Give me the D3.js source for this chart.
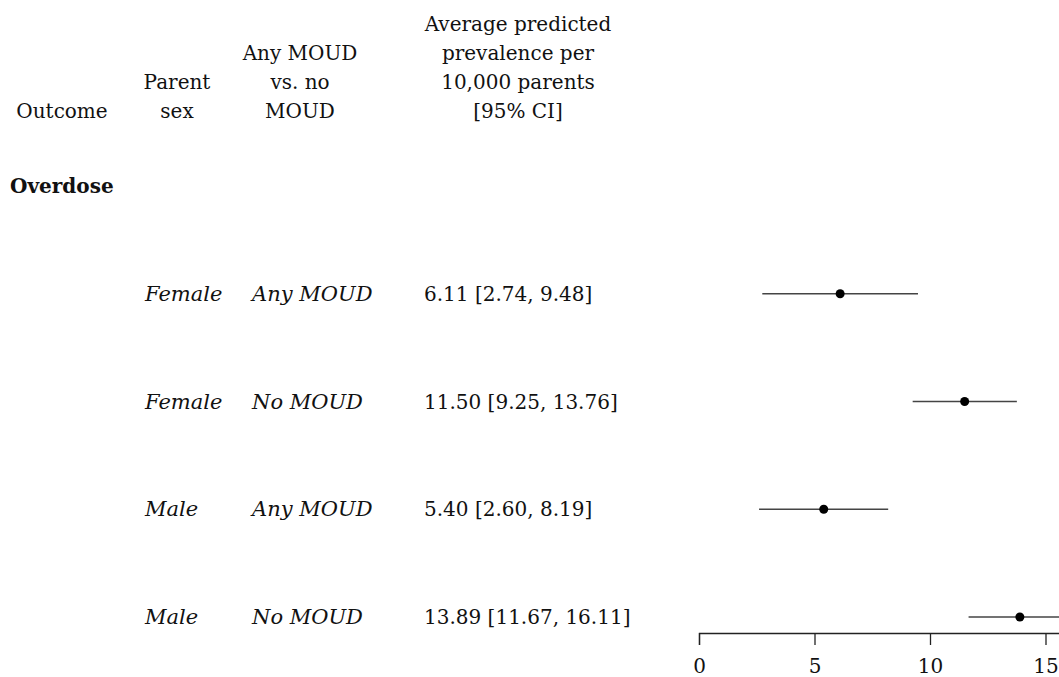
<!DOCTYPE html>
<html>
<head>
<meta charset="utf-8">
<script src="https://cdn.jsdelivr.net/npm/d3@7"></script>
<style>
  body { margin: 0; background: #fff; }
  svg { display: block; font-family: "DejaVu Serif", serif; }
</style>
</head>
<body>
<div id="graph"></div>
<script>
// data
const sexes = ["Female", "Female", "Male", "Male"]
const moud = ["Any MOUD", "No MOUD", "Any MOUD", "No MOUD"]
const estimates = [6.11, 11.50, 5.40, 13.89]
const lower = [2.74, 9.25, 2.60, 11.67]
const upper = [9.48, 13.76, 8.19, 16.11]
const ticks = [0, 5, 10, 15]
const outcome = "Overdose"

const w = 1059, h = 677

const svg = d3.select("#graph")
    .append("svg")
    .attr("width", w)
    .attr("height", h)

const x = d3.scaleLinear()
    .domain([0, 20])
    .range([699, 1161])

// rows: 0 = outcome heading, 1..4 = estimates
const y = d3.scaleLinear()
    .domain([0, 4])
    .range([186, 617])

// column headers
const headers = [
    { cx: 62, lines: ["Outcome"] },
    { cx: 177, lines: ["Parent", "sex"] },
    { cx: 300, lines: ["Any MOUD", "vs. no", "MOUD"] },
    { cx: 518, lines: ["Average predicted", "prevalence per", "10,000 parents", "[95% CI]"] }
]
const lineH = 29, lastBase = 118

headers.forEach(hd => {
    const n = hd.lines.length
    svg.append("text")
        .attr("text-anchor", "middle")
        .attr("font-size", 20)
        .attr("fill", "#111")
        .selectAll("tspan")
        .data(hd.lines)
        .enter()
        .append("tspan")
        .attr("x", hd.cx)
        .attr("y", (d, i) => lastBase - (n - 1 - i) * lineH)
        .text(d => d)
})

svg.append("text") // outcome label
    .attr("x", 10)
    .attr("y", y(0) + 7)
    .attr("font-size", 20)
    .attr("font-weight", "bold")
    .attr("fill", "#111")
    .text(outcome)

const rows = svg.selectAll("g.row")
    .data(estimates)
    .enter()
    .append("g")
    .attr("class", "row")
    .attr("transform", (d, i) => `translate(0,${y(i + 1)})`)

rows.append("text")
    .attr("x", 145)
    .attr("y", 7)
    .attr("font-size", 21)
    .attr("font-style", "italic")
    .attr("fill", "#111")
    .text((d, i) => sexes[i])

rows.append("text")
    .attr("x", 252)
    .attr("y", 7)
    .attr("font-size", 21)
    .attr("font-style", "italic")
    .attr("fill", "#111")
    .text((d, i) => moud[i])

rows.append("text")
    .attr("x", 424)
    .attr("y", 7)
    .attr("font-size", 20)
    .attr("fill", "#111")
    .text((d, i) => `${d.toFixed(2)} [${lower[i].toFixed(2)}, ${upper[i].toFixed(2)}]`)

rows.append("line") // CI
    .attr("x1", (d, i) => x(lower[i]))
    .attr("x2", (d, i) => x(upper[i]))
    .attr("stroke", "#444")
    .attr("stroke-width", 1.5)

rows.append("circle")
    .attr("cx", d => x(d))
    .attr("r", 4.5)
    .attr("fill", "#000")

// x-axis
const xAxis = d3.axisBottom(x)
    .tickValues(ticks)
    .tickSize(12)
    .tickSizeOuter(12)
    .tickFormat(d3.format("d"))

const gx = svg.append("g")
    .attr("transform", "translate(0,633)")
    .call(xAxis)

gx.select(".domain").attr("stroke", "#222").attr("stroke-width", 1.3)
gx.selectAll(".tick line").attr("stroke", "#222").attr("stroke-width", 1.3)
gx.selectAll(".tick text")
    .attr("font-family", "DejaVu Serif, serif")
    .attr("font-size", 20)
    .attr("fill", "#111")
    .attr("dy", null)
    .attr("y", 40)
</script>
</body>
</html>
